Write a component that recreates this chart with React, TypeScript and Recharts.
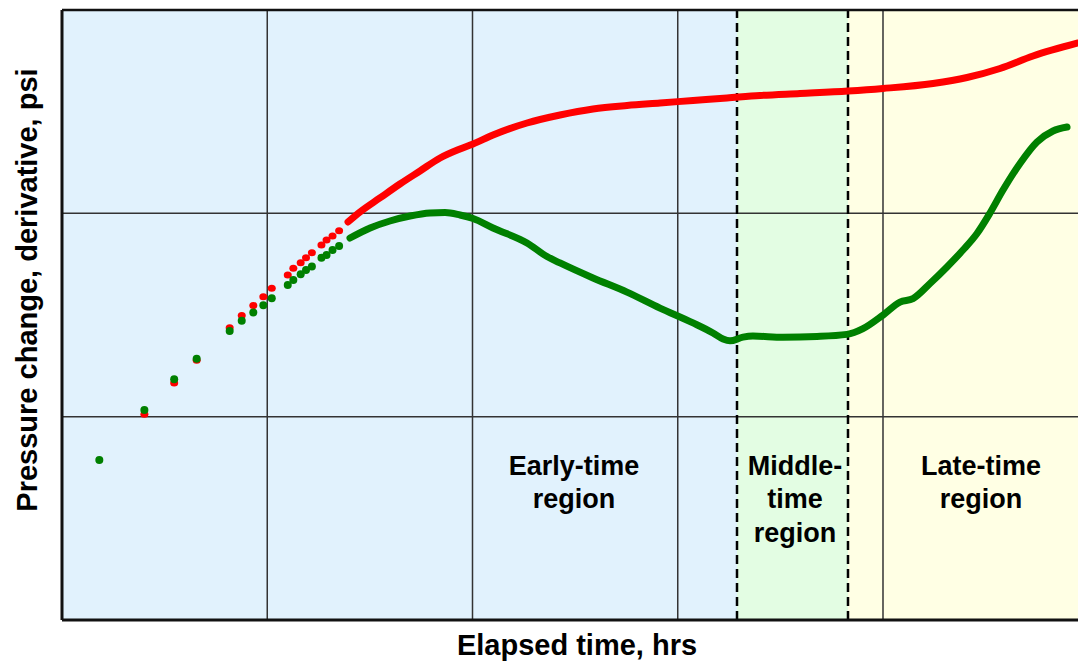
import { ComposedChart, Line, Scatter, XAxis, YAxis, ReferenceArea, ReferenceLine } from "recharts";

// early sparse points (hrs) shared by both series
const sparseTimes = [0.00152, 0.00252, 0.00352, 0.00453, 0.00656, 0.00751, 0.00855, 0.00957, 0.01052, 0.01259, 0.0134, 0.01455, 0.01545, 0.0165, 0.01837, 0.01945, 0.0208, 0.02239];
const sparsePressure = [null, 10.27, 14.64, 18.93, 27.4, 31.4, 35.2, 38.9, 42.8, 49.8, 53.7, 57.2, 60.5, 64.0, 69.8, 73.9, 77.4, 82.2];
const sparseDerivative = [6.12, 10.79, 15.27, 19.28, 26.4, 29.6, 32.5, 35.3, 38.2, 44.4, 47.0, 50.1, 52.6, 54.7, 60.5, 62.4, 66.0, 69.0];

// dense part of pressure change curve
const pressureTimes = [0.02475, 0.0283, 0.0354, 0.0443, 0.0555, 0.0695, 0.0869, 0.1006, 0.1259, 0.1843, 0.2669, 0.3865, 0.5657, 0.8193, 1.187, 1.738, 2.516, 3.941, 6.752, 10.0, 17.52, 25.66, 37.15, 53.81, 89.14];
const pressureValues = [90.7, 101.5, 119.0, 139.4, 161.6, 187.2, 207.3, 219.3, 242.9, 278.2, 304.5, 326.0, 339.2, 348.9, 358.9, 369.2, 379.8, 388.5, 399.6, 411.2, 435.1, 465.6, 515.8, 594.0, 688.2];

// dense part of derivative curve
const derivativeTimes = [0.0253, 0.0317, 0.0396, 0.0496, 0.0621, 0.0735, 0.0869, 0.1006, 0.1259, 0.1843, 0.2307, 0.2669, 0.3865, 0.5657, 0.8193, 1.187, 1.485, 1.662, 1.797, 2.079, 2.325, 3.256, 4.769, 6.676, 7.99, 10.0, 12.1, 14.0, 16.94, 20.5, 24.53, 28.71, 33.21, 38.43, 46.5, 56.28, 67.33, 78.79];
const derivativeValues = [75.6, 84.7, 91.7, 97.0, 100.4, 100.9, 98.1, 94.3, 84.7, 71.5, 61.3, 57.0, 48.1, 41.0, 34.2, 28.9, 25.8, 24.1, 23.6, 24.6, 24.9, 24.6, 24.8, 25.4, 27.1, 31.6, 36.6, 38.1, 45.2, 54.5, 66.0, 79.6, 100.4, 130.2, 175.9, 224.3, 254.1, 265.8];

const timeDomain = [0.001, 89.14];
const pressureDomain = [1, 1000];
const gridTimes = [0.01, 0.1, 1, 10];
const gridPressures = [10, 100];
const regionBounds = [0.001, 1.944, 6.752, 89.14];
const regionColors = ["#E1F2FD", "#E3FDE3", "#FFFFE4"];

const pressureSparse = sparseTimes
  .map((t, i) => ({ t, p: sparsePressure[i] }))
  .filter((d) => d.p != null);
const derivativeSparse = sparseTimes.map((t, i) => ({ t, p: sparseDerivative[i] }));
const pressureDense = pressureTimes.map((t, i) => ({ t, p: pressureValues[i] }));
const derivativeDense = derivativeTimes.map((t, i) => ({ t, p: derivativeValues[i] }));

const font = "'Liberation Sans', Arial, sans-serif";

export default function App() {
  return (
    <div style={{ position: "absolute", left: 0, top: 0, width: 1078, height: 661, background: "#fff" }}>
      <ComposedChart width={1078} height={661} margin={{ top: 10, right: 0, left: 62, bottom: 41 }}>
        <XAxis type="number" dataKey="t" scale="log" domain={timeDomain} allowDataOverflow hide />
        <YAxis type="number" dataKey="p" scale="log" domain={pressureDomain} allowDataOverflow hide />
        {regionColors.map((c, i) => (
          <ReferenceArea
            key={c}
            x1={regionBounds[i]}
            x2={regionBounds[i + 1]}
            y1={1}
            y2={1000}
            fill={c}
            fillOpacity={1}
            stroke="none"
            zIndex={-200}
          />
        ))}
        {gridTimes.map((t) => (
          <ReferenceLine key={"gx" + t} x={t} stroke="#333" strokeWidth={1.5} zIndex={-50} />
        ))}
        {gridPressures.map((p) => (
          <ReferenceLine key={"gy" + p} y={p} stroke="#333" strokeWidth={1.5} zIndex={-50} />
        ))}
        <ReferenceLine x={regionBounds[1]} stroke="#000" strokeWidth={2.5} strokeDasharray="9 5" />
        <ReferenceLine x={regionBounds[2]} stroke="#000" strokeWidth={2.5} strokeDasharray="9 5" />
        <ReferenceLine x={0.001} stroke="#111" strokeWidth={3} />
        <ReferenceLine y={1} stroke="#111" strokeWidth={3} />
        <ReferenceLine y={1000} stroke="#111" strokeWidth={2.5} />
        <Line data={pressureDense} type="monotone" dataKey="p" stroke="#FF0000" strokeWidth={7} dot={false} strokeLinecap="round" strokeLinejoin="round" isAnimationActive={false} />
        <Line data={derivativeDense} type="monotone" dataKey="p" stroke="#008000" strokeWidth={7} dot={false} strokeLinecap="round" strokeLinejoin="round" isAnimationActive={false} />
        <Scatter data={pressureSparse} dataKey="p" fill="#FF0000" shape={(props: any) => <ellipse cx={props.cx} cy={props.cy} rx={4} ry={3.5} fill="#FF0000" />} isAnimationActive={false} />
        <Scatter data={derivativeSparse} dataKey="p" fill="#008000" shape={(props: any) => <circle cx={props.cx} cy={props.cy} r={4} fill="#008000" />} isAnimationActive={false} />
      </ComposedChart>
      <svg width={1078} height={661} style={{ position: "absolute", left: 0, top: 0, pointerEvents: "none" }}>
        <g fontFamily={font} fontWeight="bold" fontSize={27} fill="#000" textAnchor="middle">
          <text x={574} y={475}>Early-time</text>
          <text x={574} y={508}>region</text>
          <text x={795} y={475}>Middle-</text>
          <text x={795} y={508}>time</text>
          <text x={795} y={542}>region</text>
          <text x={981} y={475}>Late-time</text>
          <text x={981} y={508}>region</text>
        </g>
        <text x={577} y={655} fontFamily={font} fontWeight="bold" fontSize={29} textAnchor="middle" fill="#000">
          Elapsed time, hrs
        </text>
        <text
          x={27}
          y={290}
          transform="rotate(-90, 27, 290)"
          fontFamily={font}
          fontWeight="bold"
          fontSize={29}
          textAnchor="middle"
          dominantBaseline="central"
          fill="#000"
        >
          Pressure change, derivative, psi
        </text>
      </svg>
    </div>
  );
}
